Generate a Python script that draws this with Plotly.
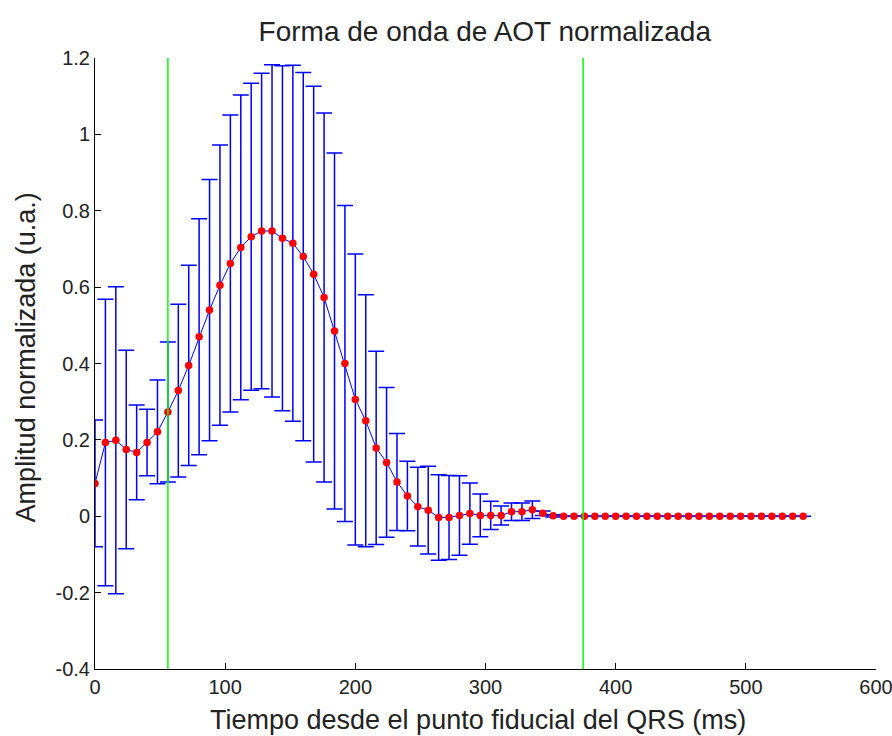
import plotly.graph_objects as go

# Time axis: samples every 8 ms from the QRS fiducial point
time_ms = [8 * i for i in range(69)]

# Normalised AOT waveform: mean per sample
mean_amp = [
    0.086, 0.193, 0.199, 0.175, 0.167, 0.193, 0.221, 0.273, 0.329, 0.395,
    0.470, 0.540, 0.605, 0.662, 0.704, 0.732, 0.747, 0.747, 0.728, 0.715,
    0.680, 0.634, 0.573, 0.485, 0.400, 0.306, 0.250, 0.179, 0.141, 0.090,
    0.053, 0.025, 0.016, -0.003, -0.003, 0.002, 0.007, 0.002, 0.002, 0.002,
    0.012, 0.012, 0.017, 0.008, 0.001,
    0, 0, 0, 0, 0, 0, 0, 0, 0, 0, 0, 0,
    0, 0, 0, 0, 0, 0, 0, 0, 0, 0, 0, 0,
]

# Standard deviation per sample (error bar half-length)
std_amp = [
    0.166, 0.375, 0.402, 0.260, 0.124, 0.087, 0.136, 0.183, 0.226, 0.262,
    0.309, 0.342, 0.367, 0.389, 0.399, 0.402, 0.413, 0.435, 0.452, 0.466,
    0.482, 0.492, 0.483, 0.466, 0.414, 0.381, 0.330, 0.253, 0.196, 0.127,
    0.091, 0.103, 0.115, 0.112, 0.110, 0.104, 0.080, 0.056, 0.037, 0.025,
    0.023, 0.023, 0.023, 0.006, 0.003,
    0, 0, 0, 0, 0, 0, 0, 0, 0, 0, 0, 0,
    0, 0, 0, 0, 0, 0, 0, 0, 0, 0, 0, 0,
]

# Window limits (ms) shown as vertical lines
window_ms = [56, 375]

x_ticks = [0, 100, 200, 300, 400, 500, 600]
y_ticks = [-0.4, -0.2, 0, 0.2, 0.4, 0.6, 0.8, 1, 1.2]
y_tick_text = ["-0.4", "-0.2", "0", "0.2", "0.4", "0.6", "0.8", "1", "1.2"]

FONT = "Liberation Sans, Arial, sans-serif"
TEXT = "#222222"

fig = go.Figure()

fig.add_trace(go.Scatter(
    x=time_ms, y=mean_amp, mode="lines",
    line=dict(color="#0000ff", width=1),
    error_y=dict(type="data", array=std_amp, visible=True,
                 color="#0000ff", thickness=1.5, width=8),
    showlegend=False, hoverinfo="skip",
))

fig.add_trace(go.Scatter(
    x=time_ms, y=mean_amp, mode="markers",
    marker=dict(color="#ff0000", size=7.5, symbol="circle"),
    showlegend=False,
))

for xv in window_ms:
    fig.add_shape(type="line", x0=xv, x1=xv, y0=-0.4, y1=1.2,
                  xref="x", yref="y",
                  line=dict(color="#00ff00", width=1.5))

fig.update_layout(
    width=892, height=736,
    margin=dict(l=95, r=16, t=58, b=67, autoexpand=False),
    paper_bgcolor="white", plot_bgcolor="white",
    font=dict(family=FONT, color=TEXT),
    title=dict(text="Forma de onda de AOT normalizada",
               x=0.5435, xanchor="center", y=1 - 31 / 736, yanchor="middle",
               yref="container", font=dict(size=28, color=TEXT)),
    xaxis=dict(range=[0, 600], tickvals=x_ticks,
               showline=True, linecolor="black", linewidth=1,
               ticks="inside", ticklen=6, tickcolor="black",
               showgrid=False, zeroline=False, automargin=False,
               ticklabeloverflow="allow",
               tickfont=dict(size=20, color=TEXT)),
    yaxis=dict(range=[-0.4, 1.2], tickvals=y_ticks, ticktext=y_tick_text,
               showline=True, linecolor="black", linewidth=1,
               ticks="inside", ticklen=6, tickcolor="black",
               showgrid=False, zeroline=False, automargin=False,
               ticklabeloverflow="allow",
               tickfont=dict(size=20, color=TEXT)),
    annotations=[
        dict(text="Tiempo desde el punto fiducial del QRS (ms)",
             xref="paper", yref="paper", x=0.49, y=0,
             yshift=-51, xanchor="center", yanchor="middle",
             showarrow=False, font=dict(size=27, color=TEXT)),
        dict(text="Amplitud normalizada (u.a.)",
             xref="paper", yref="paper", x=0, y=0.51,
             xshift=-69, xanchor="center", yanchor="middle", textangle=-90,
             showarrow=False, font=dict(size=27, color=TEXT)),
    ],
)

fig.write_html("out.html")
